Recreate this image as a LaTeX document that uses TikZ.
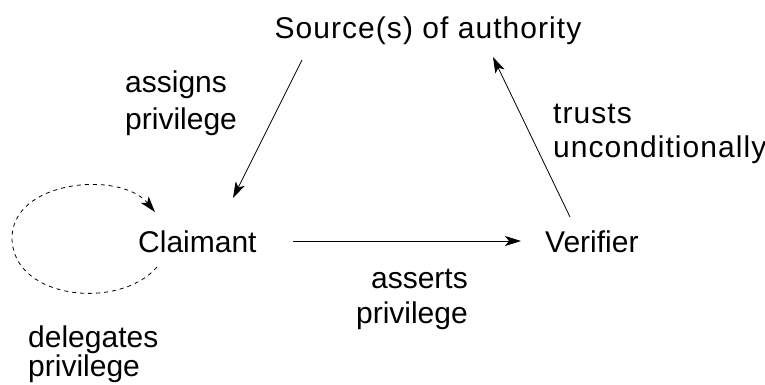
\documentclass[tikz,border=0pt]{standalone}
\usepackage{fontspec}
\setmainfont{Liberation Sans}
\usetikzlibrary{arrows.meta}
\begin{document}
\begin{tikzpicture}[x=1pt,y=-1pt,
  lbl/.style={inner sep=0pt,anchor=base west,font=\fontsize{30}{34}\selectfont,align=left},
  wide/.style={font=\fontsize{30}{34}\selectfont\addfontfeature{LetterSpace=3.5}},
  arr/.style={line width=0.8pt,-{Stealth[length=16pt,width=10pt,inset=4pt]}},
  loop/.style={arr,dash pattern=on 4pt off 4pt}]
\useasboundingbox (0,0) rectangle (765,384);
% the three parties
\node[lbl,wide,anchor=base] (src) at (428,38) {Source(s) of authority};
\node[lbl] (clm) at (138,252) {Claimant};
\node[lbl] (ver) at (545,252) {Verifier};
% edge labels (placed by the baseline of their last line)
\node[lbl,font=\fontsize{30}{37}\selectfont] (assign) at (125,129) {assigns\\privilege};
\node[lbl,wide] (trust) at (553,157) {trusts\\unconditionally};
\node[lbl,align=right,anchor=base east,font=\fontsize{30}{35}\selectfont] (assert) at (468,323) {asserts\\privilege};
\node[lbl,font=\fontsize{30}{29}\selectfont] (deleg) at (28,376) {delegates\\privilege};
% connector end points
\coordinate (srcL) at (302,60);
\coordinate (srcR) at (493,57);
\coordinate (clmT) at (233,198);
\coordinate (clmR) at (293,241);
\coordinate (clmLoopOut) at (157,267);
\coordinate (clmLoopIn) at (155,212);
\coordinate (verL) at (521,241);
\coordinate (verT) at (570,217);
% connectors
\draw[arr] (srcL) -- (clmT);
\draw[arr] (clmR) -- (verL);
\draw[arr] (verT) -- (srcR);
\draw[loop] (clmLoopOut) .. controls (120,310) and (15,300) .. (12,240)
  .. controls (10,180) and (120,170) .. (clmLoopIn);
\end{tikzpicture}
\end{document}
